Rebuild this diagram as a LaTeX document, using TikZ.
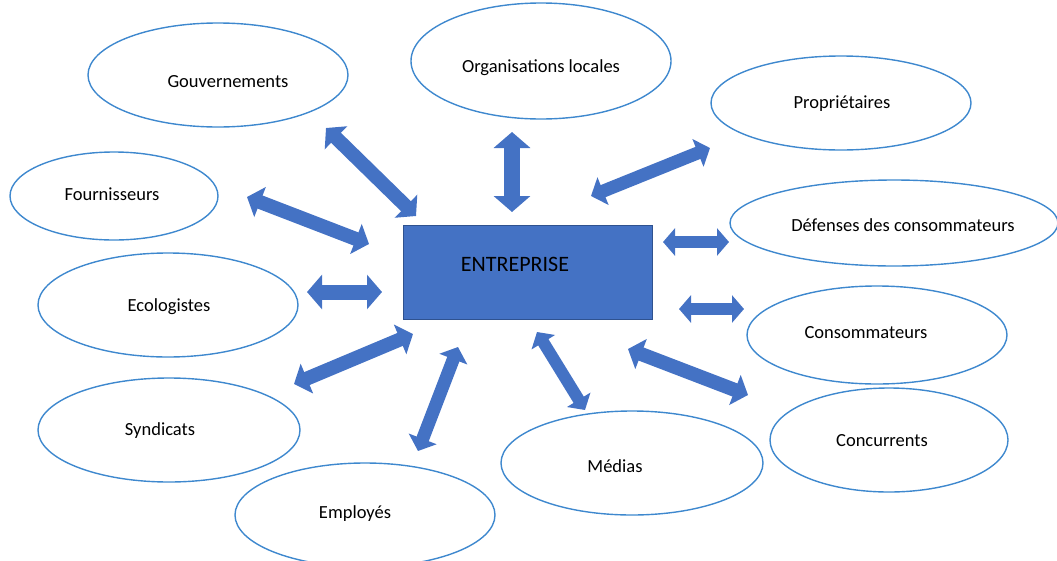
\documentclass[tikz,border=0pt]{standalone}
\usepackage{fontspec}
\setmainfont{Carlito}
\usepackage{tikz}
\usetikzlibrary{shapes.geometric,arrows.meta}

\definecolor{entblue}{RGB}{68,114,196}
\definecolor{entdark}{RGB}{47,82,143}
\definecolor{ringblue}{RGB}{62,136,206}

\tikzset{
	stake/.style={ellipse,draw=ringblue,line width=1.4pt,inner sep=0pt},
	staketext/.style={font=\fontsize{18.5}{20}\selectfont,inner sep=0pt}
}

\begin{document}
\begin{tikzpicture}[x=1pt,y=-1pt]
			\useasboundingbox (0,0) rectangle (1057,560);
			
			%entreprise
			\node[draw=entdark,line width=1pt,fill=entblue,minimum width=249pt,minimum height=94pt,inner sep=0pt] (ent) at (527.5,272) {};
			\node[font=\fontsize{22}{24}\selectfont,inner sep=0pt] (ent-t) at (515,264) {ENTREPRISE};
			
			%parties prenantes
			\foreach \n/\cx/\cy/\rx/\ry/\tx/\ty/\txt in {
				gouv/218/75/130/52/228/82/{Gouvernements},
				orga/541/61/130/58/541/68/{Organisations locales},
				prop/841/103/130/47/842/104/{Propriétaires},
				four/114/196/104/44/112/194/{Fournisseurs},
				defe/894/223/164/43/903/225/{Défenses des consommateurs},
				ecol/168/305/130/52/169/307/{Ecologistes},
				cons/877/335/130/49/866/333/{Consommateurs},
				synd/169/430/131/52/160/431/{Syndicats},
				conc/889/440/119/52/882/441/{Concurrents},
				medi/632/463/131/52/615/466/{Médias},
				empl/365/515/130/52/355/514/{Employés}}{
				\node[stake,minimum width=2*\rx,minimum height=2*\ry] (\n) at (\cx,\cy) {};
				\node[staketext] (\n-t) at (\tx,\ty) {\txt};
			}
			
			%fleches doubles
			\foreach \n/\ax/\ay/\bx/\by/\w in {
				gouv/416/216/326/128/14,
				orga/512/212/512/132/16,
				prop/591/196/710/148/13,
				four/369/244/247/197/14,
				ecol/382/292/307/292/15,
				defe/663/242/729/242/12,
				cons/679/309/744/309/12,
				synd/413/334/294/384/14,
				empl/458/347/418/451/13,
				medi/537/332/585/410/12,
				conc/628/349/748/395/14}{
				\pgfmathsetmacro\hw{2.25*\w}
				\pgfmathsetmacro\hl{\w}
				\coordinate (\n-a) at (\ax,\ay);
				\coordinate (\n-b) at (\bx,\by);
				\draw[draw=entblue,line width=\w pt,
					{Triangle[length=\hl pt,width=\hw pt]}-{Triangle[length=\hl pt,width=\hw pt]}] (\n-a) -- (\n-b);
			}
			
\end{tikzpicture}
\end{document}
